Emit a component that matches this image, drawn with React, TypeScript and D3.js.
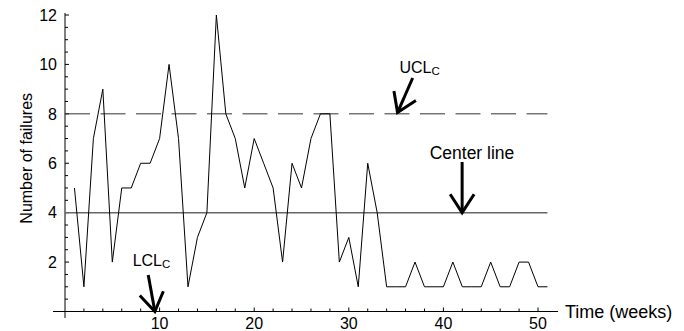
import { line as d3Line, range, scaleLinear } from "d3";

// c-chart: number of failures per week
const failures = [
  5, 1, 7, 9, 2, 5, 5, 6, 6, 7, 10, 7, 1, 3, 4, 12, 8, 7, 5, 7, 6, 5, 2, 6, 5, 7, 8, 8, 2, 3, 1, 6, 4, 1,
  1, 1, 2, 1, 1, 1, 2, 1, 1, 1, 2, 1, 1, 2, 2, 1, 1,
];
const weeks = failures.map((_, i) => i + 1);

const centerLine = 4;
const ucl = 8;

const xTickValues = [10, 20, 30, 40, 50];
const yTickValues = [2, 4, 6, 8, 10, 12];

// annotation arrows, in data units: label start, arrow tail, arrow tip
const notes = [
  { main: "UCL", sub: "C", size: 16, tx: 35.35, ty: 9.64, from: [36.75, 9.45], to: [35.15, 8.05] },
  { main: "Center line", sub: "", size: 17.5, tx: 38.55, ty: 6.17, from: [41.98, 6.05], to: [41.98, 4] },
  { main: "LCL", sub: "C", size: 16, tx: 7.15, ty: 1.84, from: [8.8, 1.48], to: [9.5, 0] },
];

const W = 684;
const H = 331;
const FONT = "'Liberation Sans', Arial, Helvetica, sans-serif";

export default function App() {
  const x = scaleLinear().domain([0, 50]).range([65, 538]);
  const y = scaleLinear().domain([0, 12]).range([311.5, 15]);

  const path = d3Line<number>()
    .x((_, i) => x(weeks[i]))
    .y((d) => y(d))(failures);

  const xMinor = range(2, 52, 2);
  const yMinor = range(0.5, 12.01, 0.5);

  const arrow = (from: number[], to: number[]) => {
    const x1 = x(from[0]);
    const y1 = y(from[1]);
    const x2 = x(to[0]);
    const y2 = y(to[1]);
    const a = Math.atan2(y2 - y1, x2 - x1);
    const len = 22;
    const th = (33 * Math.PI) / 180;
    const l = [x2 - len * Math.cos(a - th), y2 - len * Math.sin(a - th)];
    const r = [x2 - len * Math.cos(a + th), y2 - len * Math.sin(a + th)];
    return { shaft: `M${x1},${y1}L${x2},${y2}`, head: `M${l[0]},${l[1]}L${x2},${y2}L${r[0]},${r[1]}` };
  };

  return (
    <svg
      width={W}
      height={H}
      style={{ position: "absolute", left: 0, top: 0, background: "#fff" }}
      fontFamily={FONT}
    >
      {/* axes */}
      <line x1={53} x2={558} y1={y(0)} y2={y(0)} stroke="#000" strokeWidth={1} />
      <line x1={x(0)} x2={x(0)} y1={13} y2={318} stroke="#000" strokeWidth={1} />

      {xMinor.map((v) => (
        <line key={`xm${v}`} x1={x(v)} x2={x(v)} y1={y(0)} y2={y(0) - (v % 10 === 0 ? 4 : 3)} stroke="#000" />
      ))}
      {yMinor.map((v) => (
        <line key={`ym${v}`} x1={x(0)} x2={x(0) + (v % 2 === 0 ? 4 : 3)} y1={y(v)} y2={y(v)} stroke="#000" />
      ))}

      {xTickValues.map((v) => (
        <text key={`xt${v}`} x={x(v)} y={329} textAnchor="middle" fontSize={16} fill="#000">
          {v}
        </text>
      ))}
      {yTickValues.map((v) => (
        <text key={`yt${v}`} x={57} y={y(v) + 5.8} textAnchor="end" fontSize={16} fill="#000">
          {v}
        </text>
      ))}

      <text x={565} y={318} fontSize={18} fill="#000">
        Time (weeks)
      </text>
      <text transform={`translate(32,${y(6.2)}) rotate(-90)`} textAnchor="middle" fontSize={16} fill="#000">
        Number of failures
      </text>

      {/* control limits */}
      <line
        x1={x(0)}
        x2={x(51)}
        y1={y(ucl)}
        y2={y(ucl)}
        stroke="#333"
        strokeWidth={1}
        strokeDasharray="25 10.5"
      />
      <line x1={x(0)} x2={x(51)} y1={y(centerLine)} y2={y(centerLine)} stroke="#666" strokeWidth={1.5} />

      {/* data */}
      <path d={path ?? ""} fill="none" stroke="#000" strokeWidth={1} strokeLinejoin="miter" />

      {/* annotations */}
      {notes.map((n) => {
        const a = arrow(n.from, n.to);
        return (
          <g key={n.main}>
            <text x={x(n.tx)} y={y(n.ty)} fontSize={n.size} fill="#000">
              {n.main}
              {n.sub && (
                <tspan fontSize={11.5} dy={2}>
                  {n.sub}
                </tspan>
              )}
            </text>
            <path d={a.shaft} stroke="#000" strokeWidth={3} fill="none" />
            <path d={a.head} stroke="#000" strokeWidth={3} fill="none" strokeLinejoin="miter" />
          </g>
        );
      })}
    </svg>
  );
}
